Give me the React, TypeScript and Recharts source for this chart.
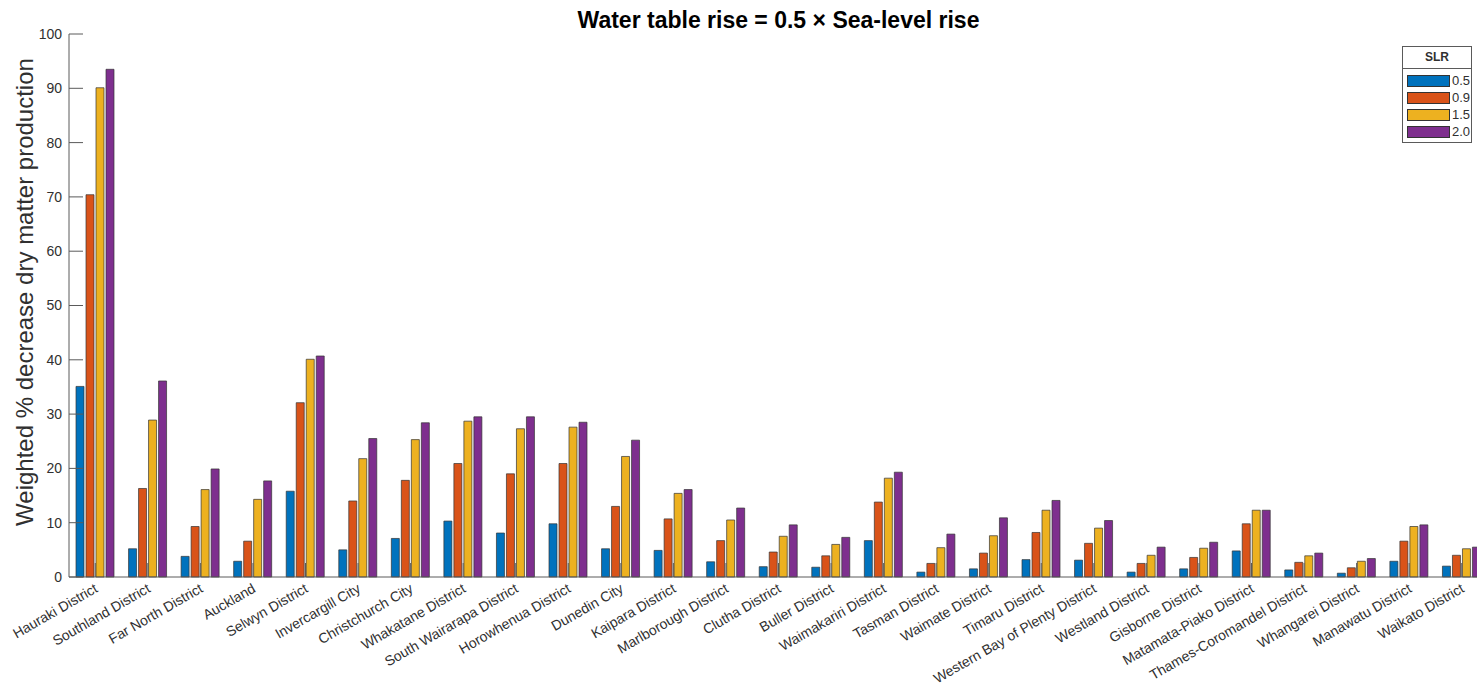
import React from 'react';
import { BarChart, Bar, XAxis, YAxis, Legend, Label } from 'recharts';

const districts = [
  'Hauraki District', 'Southland District', 'Far North District', 'Auckland', 'Selwyn District',
  'Invercargill City', 'Christchurch City', 'Whakatane District', 'South Wairarapa District',
  'Horowhenua District', 'Dunedin City', 'Kaipara District', 'Marlborough District', 'Clutha District',
  'Buller District', 'Waimakariri District', 'Tasman District', 'Waimate District', 'Timaru District',
  'Western Bay of Plenty District', 'Westland District', 'Gisborne District', 'Matamata-Piako District',
  'Thames-Coromandel District', 'Whangarei District', 'Manawatu District', 'Waikato District',
];

const slr05 = [35.1, 5.2, 3.8, 2.9, 15.8, 5.0, 7.1, 10.3, 8.1, 9.8, 5.2, 4.9, 2.8, 1.9, 1.8, 6.7, 0.9, 1.5, 3.2, 3.1, 0.9, 1.5, 4.8, 1.3, 0.7, 2.9, 2.0];
const slr09 = [70.4, 16.3, 9.3, 6.6, 32.1, 14.0, 17.8, 20.9, 19.0, 20.9, 13.0, 10.7, 6.7, 4.6, 3.9, 13.8, 2.5, 4.4, 8.2, 6.2, 2.5, 3.6, 9.8, 2.7, 1.7, 6.6, 4.0];
const slr15 = [90.1, 28.9, 16.1, 14.3, 40.1, 21.8, 25.3, 28.7, 27.3, 27.6, 22.2, 15.4, 10.5, 7.5, 6.0, 18.2, 5.4, 7.6, 12.3, 9.0, 4.0, 5.3, 12.3, 3.9, 2.9, 9.3, 5.2];
const slr20 = [93.5, 36.1, 19.9, 17.7, 40.7, 25.5, 28.4, 29.5, 29.5, 28.5, 25.2, 16.1, 12.7, 9.6, 7.3, 19.3, 7.9, 10.9, 14.1, 10.4, 5.5, 6.4, 12.3, 4.4, 3.4, 9.6, 5.5];
const yTicks = [0, 10, 20, 30, 40, 50, 60, 70, 80, 90, 100];

const SERIES = [
  { key: 'slr05', name: '0.5', color: '#0072BD' },
  { key: 'slr09', name: '0.9', color: '#D95319' },
  { key: 'slr15', name: '1.5', color: '#EDB120' },
  { key: 'slr20', name: '2.0', color: '#7E2F8E' },
];

const data = districts.map((name, i) => ({
  name,
  slr05: slr05[i],
  slr09: slr09[i],
  slr15: slr15[i],
  slr20: slr20[i],
}));

const FONT = '"Liberation Sans", Arial, Helvetica, sans-serif';
const AXIS = '#5a5a5a';
const TEXT = '#303030';
const W = 1500;
const H = 692;
const LEFT = 69;
const RIGHT = 1488;
const TOP = 34;
const BOTTOM = 577;
const TICK = 14;

// MATLAB style: ticks point into the plot box
const BottomTick = (props: any) => {
  const { x, payload } = props;
  return (
    <g>
      <line x1={x} x2={x} y1={BOTTOM} y2={BOTTOM - TICK} stroke={AXIS} strokeWidth={1} />
      <text
        transform={`translate(${x + 1}, ${BOTTOM + 10}) rotate(-30)`}
        textAnchor="end"
        dy="0.35em"
        fontSize={14}
        fill={TEXT}
        fontFamily={FONT}
      >
        {payload.value}
      </text>
    </g>
  );
};

const TopTick = (props: any) => {
  const { x } = props;
  return <line x1={x} x2={x} y1={TOP} y2={TOP + TICK} stroke={AXIS} strokeWidth={1} />;
};

const LeftTick = (props: any) => {
  const { y, payload } = props;
  return (
    <g>
      <line x1={LEFT} x2={LEFT + TICK} y1={y} y2={y} stroke={AXIS} strokeWidth={1} />
      <text x={LEFT - 7} y={y} dy="0.35em" textAnchor="end" fontSize={14} fill={TEXT} fontFamily={FONT}>
        {payload.value}
      </text>
    </g>
  );
};

const RightTick = (props: any) => {
  const { y } = props;
  return <line x1={RIGHT} x2={RIGHT - TICK} y1={y} y2={y} stroke={AXIS} strokeWidth={1} />;
};

const SlrLegend = (props: any) => {
  const { payload } = props;
  return (
    <div
      style={{
        width: 70,
        border: `1px solid ${AXIS}`,
        background: '#fff',
        fontFamily: FONT,
        color: TEXT,
        boxSizing: 'border-box',
      }}
    >
      <div
        style={{
          height: 21,
          lineHeight: '21px',
          textAlign: 'center',
          fontWeight: 'bold',
          fontSize: 12,
          borderBottom: `1px solid ${AXIS}`,
        }}
      >
        SLR
      </div>
      <div style={{ padding: '3px 0 2px 4px' }}>
        {(payload || []).map((entry: any) => (
          <div key={entry.value} style={{ display: 'flex', alignItems: 'center', height: 17 }}>
            <div
              style={{
                width: 43,
                height: 12,
                background: entry.color,
                border: '1px solid #333',
                boxSizing: 'border-box',
              }}
            />
            <span style={{ fontSize: 13, marginLeft: 2 }}>{entry.value}</span>
          </div>
        ))}
      </div>
    </div>
  );
};

export default function App() {
  return (
    <div
      style={{
        position: 'fixed',
        left: 0,
        top: 0,
        width: 1477,
        height: 692,
        overflow: 'hidden',
        background: '#fff',
      }}
    >
      <BarChart
        width={W}
        height={H}
        data={data}
        margin={{ top: TOP, right: W - RIGHT, bottom: 0, left: 9 }}
        barSize={8}
        barGap={2}
      >
        <text
          x={(LEFT + RIGHT) / 2}
          y={28}
          textAnchor="middle"
          fontFamily={FONT}
          fontWeight="bold"
          fontSize={23}
          fill="#000"
        >
          Water table rise = 0.5 × Sea-level rise
        </text>
        <XAxis
          dataKey="name"
          interval={0}
          height={H - BOTTOM}
          stroke={AXIS}
          tickLine={false}
          tick={<BottomTick />}
        />
        <XAxis
          xAxisId="top"
          dataKey="name"
          orientation="top"
          interval={0}
          height={0}
          stroke={AXIS}
          tickLine={false}
          tick={<TopTick />}
        />
        <YAxis
          domain={[0, 100]}
          ticks={yTicks}
          width={60}
          stroke={AXIS}
          tickLine={false}
          tick={<LeftTick />}
        >
          <Label
            content={() => (
              <text
                transform="translate(33, 292) rotate(-90)"
                textAnchor="middle"
                fontSize={24}
                fill={TEXT}
                fontFamily={FONT}
              >
                Weighted % decrease dry matter production
              </text>
            )}
          />
        </YAxis>
        <YAxis
          yAxisId="right"
          orientation="right"
          domain={[0, 100]}
          ticks={yTicks}
          width={0}
          stroke={AXIS}
          tickLine={false}
          tick={<RightTick />}
        />
        <Legend
          layout="vertical"
          align="center"
          verticalAlign="middle"
          content={<SlrLegend />}
          wrapperStyle={{ position: 'absolute', left: 1402, top: 46, width: 70 }}
        />
        {SERIES.map((s) => (
          <Bar
            key={s.key}
            dataKey={s.key}
            name={s.name}
            fill={s.color}
            stroke="#333"
            strokeWidth={0.7}
            isAnimationActive={false}
          />
        ))}
      </BarChart>
    </div>
  );
}
